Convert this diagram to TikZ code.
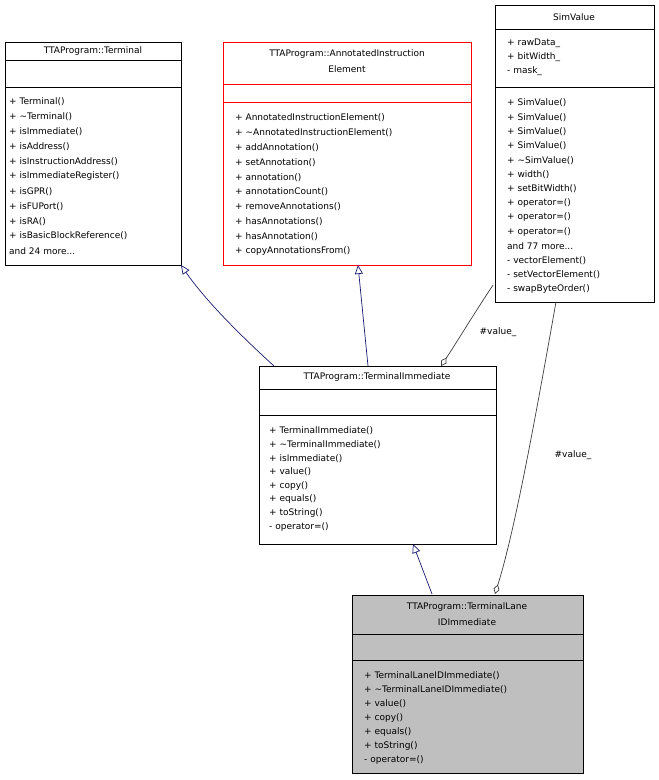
\documentclass[tikz,border=0pt]{standalone}
\usepackage{fontspec}
\setmainfont{DejaVu Sans}
\usetikzlibrary{arrows.meta}
\newcommand{\mydots}{.{}.{}.}
\begin{document}
\begin{tikzpicture}[x=1pt,y=-1pt,
  box/.style={draw=black,line width=0.7pt},
  txt/.style={anchor=west,inner sep=0pt,font=\fontsize{9}{10}\selectfont},
  ctr/.style={anchor=center,inner sep=0pt,font=\fontsize{9}{10}\selectfont},
  inh/.style={draw={rgb,255:red,25;green,25;blue,112},line width=0.7pt,-{Triangle[open,length=9pt,width=8pt]}},
  comp/.style={draw={rgb,255:red,64;green,64;blue,64},line width=0.7pt,-{Diamond[open,length=10pt,width=6pt]}}]
\useasboundingbox (0,0) rectangle (659,780);
\fill[white] (0,0) rectangle (659,780);
% Terminal
\draw[box] (5,42) rectangle (181,265);
\draw[box] (5,60) -- (181,60) (5,87) -- (181,87);
\node[ctr] (tt) at (93,51) {TTAProgram::Terminal};
\foreach \t [count=\i from 0] in {+ Terminal(),+ \textasciitilde Terminal(),+ isImmediate(),+ isAddress(),+ isInstructionAddress(),+ isImmediateRegister(),+ isGPR(),+ isFUPort(),+ isRA(),+ isBasicBlockReference(),and 24 more\mydots}
  \node[txt] at (9,102+14.9*\i) {\t};
% AIE
\draw[box,draw=red] (223,42) rectangle (471,265);
\draw[box,draw=red] (223,84) -- (471,84) (223,102) -- (471,102);
\node[ctr] (at1) at (347,54) {TTAProgram::AnnotatedInstruction};
\node[ctr] (at2) at (347,69) {Element};
\foreach \t [count=\i from 0] in {+ AnnotatedInstructionElement(),+ \textasciitilde AnnotatedInstructionElement(),+ addAnnotation(),+ setAnnotation(),+ annotation(),+ annotationCount(),+ removeAnnotations(),+ hasAnnotations(),+ hasAnnotation(),+ copyAnnotationsFrom()}
  \node[txt] at (235,118+14.8*\i) {\t};
% SimValue
\draw[box] (495,5) rectangle (654,302);
\draw[box] (495,29) -- (654,29) (495,87) -- (654,87);
\node[ctr] (sv) at (574,17) {SimValue};
\foreach \t [count=\i from 0] in {+ rawData\_,+ bitWidth\_,- mask\_}
  \node[txt] at (507,43+14.3*\i) {\t};
\foreach \t [count=\i from 0] in {+ SimValue(),+ SimValue(),+ SimValue(),+ SimValue(),+ \textasciitilde SimValue(),+ width(),+ setBitWidth(),+ operator=(),+ operator=(),+ operator=(),and 77 more\mydots,- vectorElement(),- setVectorElement(),- swapByteOrder()}
  \node[txt] at (507,103+14.3*\i) {\t};
% TerminalImmediate
\draw[box] (259,366) rectangle (496,544);
\draw[box] (259,389) -- (496,389) (259,415) -- (496,415);
\node[ctr] (ti) at (377,377) {TTAProgram::TerminalImmediate};
\foreach \t [count=\i from 0] in {+ TerminalImmediate(),+ \textasciitilde TerminalImmediate(),+ isImmediate(),+ value(),+ copy(),+ equals(),+ toString(),- operator=()}
  \node[txt] at (269,431+13.7*\i) {\t};
% TerminalLaneIDImmediate
\draw[box,fill={rgb,255:red,191;green,191;blue,191}] (352,595) rectangle (583,773);
\draw[box] (352,634) -- (583,634) (352,660) -- (583,660);
\node[ctr] (tl1) at (467,607) {TTAProgram::TerminalLane};
\node[ctr] (tl2) at (467,622) {IDImmediate};
\foreach \t [count=\i from 0] in {+ TerminalLaneIDImmediate(),+ \textasciitilde TerminalLaneIDImmediate(),+ value(),+ copy(),+ equals(),+ toString(),- operator=()}
  \node[txt] at (364,676+14*\i) {\t};
% edges
\coordinate (a1) at (274,366); \coordinate (a2) at (181,265);
\draw[inh] (a1) .. controls (240,335) and (205,300) .. (a2);
\coordinate (b1) at (368,366); \coordinate (b2) at (358,265);
\draw[inh] (b1) -- (b2);
\coordinate (c2) at (432,594); \coordinate (c3) at (413,544);
\draw[inh] (c2) -- (c3);
\coordinate (d1) at (493,285); \coordinate (d2) at (441,366);
\draw[comp] (d1) .. controls (470,320) and (455,345) .. (d2);
\node[ctr] (l1) at (498,332) {\#value\_};
\coordinate (e1) at (556,302); \coordinate (e2) at (495,594);
\draw[comp] (e1) .. controls (535,420) and (515,530) .. (e2);
\node[ctr] (l2) at (573,455) {\#value\_};
\end{tikzpicture}
\end{document}
